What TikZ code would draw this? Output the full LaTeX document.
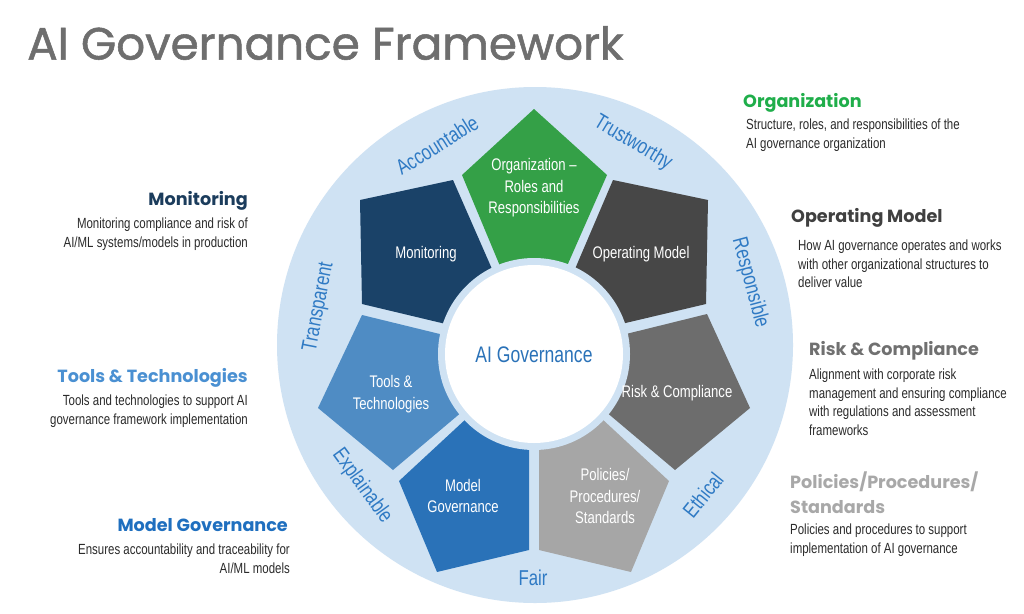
\documentclass[tikz,border=0pt]{standalone}
\usepackage{fontspec}
\setmainfont{Liberation Sans}
\newfontfamily\condfont[FakeStretch=0.78]{Liberation Sans}
\newfontfamily\headfont{Poppins}
\newfontfamily\titlefont[FakeBold=1.2]{Poppins}
\definecolor{lightring}{HTML}{CFE2F3}
\definecolor{ringblue}{HTML}{2F7AC4}
\definecolor{cgreen}{HTML}{34A047}
\definecolor{cnavy}{HTML}{1A4268}
\definecolor{cdark}{HTML}{474747}
\definecolor{crisk}{HTML}{6D6D6D}
\definecolor{cpol}{HTML}{A6A6A6}
\definecolor{cmodel}{HTML}{2A72B8}
\definecolor{ctools}{HTML}{4F8CC4}
\definecolor{ctitle}{HTML}{6E6E6E}
\definecolor{hgreen}{HTML}{1FAE4A}
\definecolor{hdark}{HTML}{404040}
\definecolor{hrisk}{HTML}{707070}
\definecolor{hpol}{HTML}{A8A8A8}
\definecolor{hnavy}{HTML}{1B3C5C}
\definecolor{htools}{HTML}{4A90D2}
\definecolor{hmodel}{HTML}{1F6FBF}
\definecolor{bodygray}{HTML}{2B2B2B}
\tikzset{
  plabel/.style={text=white, font=\condfont\fontsize{16.8}{21.5}\selectfont, align=center, inner sep=0},
  ringlabel/.style={text=ringblue, font=\condfont\fontsize{21.5}{24}\selectfont, inner sep=0},
  head/.style={font=\headfont\bfseries\fontsize{17.6}{25}\selectfont, inner sep=0},
  bodyL/.style={font=\condfont\fontsize{14.7}{18.5}\selectfont, text=bodygray, align=left, anchor=north west, inner sep=0},
  bodyR/.style={font=\condfont\fontsize{14.7}{18.5}\selectfont, text=bodygray, align=right, anchor=north east, inner sep=0}
}
\begin{document}
\begin{tikzpicture}[x=1pt,y=-1pt]
\useasboundingbox (0,0) rectangle (1024,613);
\fill[white] (0,0) rectangle (1024,613);
% title
\node[anchor=west, text=ctitle, font=\titlefont\fontsize{45.3}{50}\selectfont, inner sep=0] (title) at (27,43) {AI Governance Framework};
% outer disc
\fill[lightring] (535,345) circle[radius=258];
% pentagons
\fill[cgreen] (534,109) -- (607,175) -- (567,266) -- (500,266) -- (462,175) -- cycle;
\fill[cdark] (613,180) -- (708,200) -- (706,304) -- (617,325) -- (575,269) -- cycle;
\fill[cnavy] (360,200) -- (453,180) -- (492,269) -- (450,325) -- (362,304) -- cycle;
\fill[crisk] (707,314) -- (750,408) -- (675,470) -- (605,411) -- (618,336) -- cycle;
\fill[ctools] (362,315) -- (318,408) -- (393,470) -- (463,411) -- (448,336) -- cycle;
\fill[cmodel] (399,481) -- (437,572) -- (529,550) -- (529,448) -- (467,418) -- cycle;
\fill[cpol] (539,448) -- (539,550) -- (631,572) -- (669,481) -- (601,418) -- cycle;
% centre
\fill[lightring] (534,354) circle[radius=96];
\fill[white] (534,354) circle[radius=89];
\node[text=cmodel, font=\condfont\fontsize{22.5}{24}\selectfont, inner sep=0] (core) at (534,355) {AI Governance};
% pentagon labels
\node[plabel] (org) at (534,188) {Organization –\\Roles and\\Responsibilities};
\node[plabel] (mon) at (426,254) {Monitoring};
\node[plabel] (opm) at (641,254) {Operating Model};
\node[plabel] (tools) at (391,394) {Tools \&\\Technologies};
\node[plabel] (risk) at (677,393) {Risk \& Compliance};
\node[plabel] (mgov) at (463,496) {Model\\Governance};
\node[plabel] (pol) at (605,496) {Policies/\\Procedures/\\Standards};
% ring labels
\node[ringlabel, rotate=32] (acc) at (437,145) {Accountable};
\node[ringlabel, rotate=-31] (trust) at (633,143) {Trustworthy};
\node[ringlabel, rotate=-75] (resp) at (750,283) {Responsible};
\node[ringlabel, rotate=51] (eth) at (703,495) {Ethical};
\node[ringlabel] (fair) at (533,578) {Fair};
\node[ringlabel, rotate=-54] (expl) at (362,486) {Explainable};
\node[ringlabel, rotate=79] (transp) at (319,307) {Transparent};
% right side descriptions
\node[head, anchor=west, text=hgreen] (hOrg) at (743,103) {Organization};
\node[bodyL] (bOrg) at (746,119) {Structure, roles, and responsibilities of the\\AI governance organization};
\node[head, anchor=west, text=hdark] (hOpm) at (791,218) {Operating Model};
\node[bodyL] (bOpm) at (798,240) {How AI governance operates and works\\with other organizational structures to\\deliver value};
\node[head, anchor=west, text=hrisk] (hRisk) at (809,351) {Risk \& Compliance};
\node[bodyL] (bRisk) at (809,369) {Alignment with corporate risk\\management and ensuring compliance\\with regulations and assessment\\frameworks};
\node[head, anchor=north west, text=hpol, align=left] (hPol) at (790,472) {Policies/Procedures/\\Standards};
\node[bodyL] (bPol) at (790,524) {Policies and procedures to support\\implementation of AI governance};
% left side descriptions
\node[head, anchor=east, text=hnavy] (hMon) at (248,201) {Monitoring};
\node[bodyR] (bMon) at (248,218) {Monitoring compliance and risk of\\AI/ML systems/models in production};
\node[head, anchor=east, text=htools] (hTools) at (248,378) {Tools \& Technologies};
\node[bodyR] (bTools) at (248,395) {Tools and technologies to support AI\\governance framework implementation};
\node[head, anchor=east, text=hmodel] (hModel) at (288,525) {Model Governance};
\node[bodyR] (bModel) at (290,544) {Ensures accountability and traceability for\\AI/ML models};
\end{tikzpicture}
\end{document}
